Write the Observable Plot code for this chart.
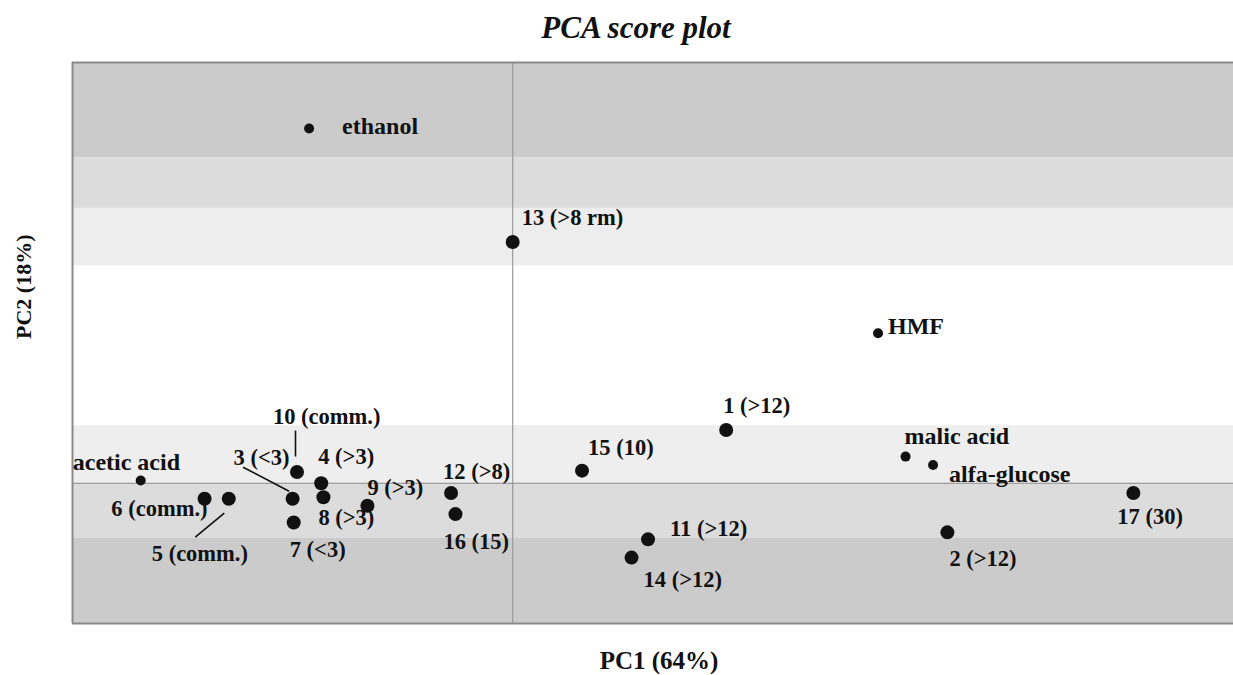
<!DOCTYPE html>
<html>
<head>
<meta charset="utf-8">
<script src="https://cdn.jsdelivr.net/npm/d3@7"></script>
<script src="https://cdn.jsdelivr.net/npm/@observablehq/plot@0.6"></script>
<style>
  html, body { margin: 0; padding: 0; background: #fff; }
  #chart svg { display: block; }
</style>
</head>
<body>
<div id="chart"></div>
<script>
// ---- data ----
const labels = ["ethanol","13 (>8 rm)","HMF","1 (>12)","15 (10)","malic acid","alfa-glucose","17 (30)",
  "11 (>12)","14 (>12)","2 (>12)","acetic acid","6 (comm.)","5 (comm.)","10 (comm.)","3 (<3)",
  "4 (>3)","8 (>3)","7 (<3)","9 (>3)","12 (>8)","16 (15)"];
const pc1 = [-1.85, 0.0, 3.32, 1.94, 0.63, 3.57, 3.82, 5.64, 1.23, 1.08, 3.95, -3.38, -2.80, -2.58,
  -1.96, -2.00, -1.74, -1.72, -1.99, -1.32, -0.56, -0.52];
const pc2 = [2.53, 1.72, 1.07, 0.38, 0.09, 0.19, 0.13, -0.07, -0.40, -0.53, -0.35, 0.02, -0.11, -0.11,
  0.08, -0.11, 0.00, -0.10, -0.28, -0.16, -0.07, -0.22];
const kind = ["variable","sample","variable","sample","sample","variable","variable","sample",
  "sample","sample","sample","variable","sample","sample","sample","sample",
  "sample","sample","sample","sample","sample","sample"];

const xDomain = [-4, 6.55];
const yDomain = [-1, 3];

// background bands (PC2 limits)
const bandLow  = [2.32, 1.96, 1.55, 0, -0.39, -1];
const bandHigh = [3, 2.32, 1.96, 0.41, 0, -0.39];

const title = "PCA score plot";
const xLabel = "PC1 (64%)";
const yLabel = "PC2 (18%)";

// ---- styling / layout (pixels) ----
const bandShade = ["#cbcbcb", "#dcdcdc", "#ededed", "#eeeeee", "#dcdcdc", "#cbcbcb"];
const labelOffset = {
  "ethanol": [33, -2, "start"],
  "13 (>8 rm)": [9, -24, "start"],
  "HMF": [10, -7, "start"],
  "1 (>12)": [-3, -24, "start"],
  "15 (10)": [6, -23, "start"],
  "malic acid": [-1, -20, "start"],
  "alfa-glucose": [16, 9, "start"],
  "17 (30)": [-16, 24, "start"],
  "11 (>12)": [22, -11, "start"],
  "14 (>12)": [12, 22, "start"],
  "2 (>12)": [2, 26, "start"],
  "acetic acid": [-68, -18, "start"],
  "6 (comm.)": [3, 10, "end"],
  "5 (comm.)": [-77, 55, "start"],
  "10 (comm.)": [-24, -55, "start"],
  "3 (<3)": [-59, -41, "start"],
  "4 (>3)": [-3, -26, "start"],
  "8 (>3)": [-5, 21, "start"],
  "7 (<3)": [-4, 27, "start"],
  "9 (>3)": [0, -18, "start"],
  "12 (>8)": [-8, -21, "start"],
  "16 (15)": [-12, 28, "start"]
};
const leaderOffset = {
  "5 (comm.)": [-4, 15, -33, 39],
  "10 (comm.)": [-1, -15, -1, -41],
  "3 (<3)": [-3, -7, -49, -31]
};

const points = labels.map((label, i) => ({label, x: pc1[i], y: pc2[i], kind: kind[i]}));
const bands = bandLow.map((lo, i) => ({lo, hi: bandHigh[i], shade: bandShade[i]}));

const font = "'Liberation Serif', 'Times New Roman', serif";

function leaders(index, scales) {
  const g = d3.create("svg:g").attr("stroke", "#111").attr("stroke-width", 1.6);
  points.forEach(p => {
    const o = leaderOffset[p.label];
    if (!o) return;
    const px = scales.x(p.x), py = scales.y(p.y);
    g.append("line")
      .attr("x1", px + o[0]).attr("y1", py + o[1])
      .attr("x2", px + o[2]).attr("y2", py + o[3]);
  });
  return g.node();
}

const labelMarks = points.map(p => {
  const o = labelOffset[p.label];
  return Plot.text([p], {
    x: "x", y: "y", text: "label",
    dx: o[0], dy: o[1], textAnchor: o[2],
    fontSize: p.kind === "variable" ? 24 : 22.5,
    fontWeight: "bold", fill: "#111", fontFamily: font
  });
});

const chart = Plot.plot({
  width: 1233,
  height: 675,
  marginLeft: 72,
  marginRight: 0,
  marginTop: 62,
  marginBottom: 52,
  style: {fontFamily: font, background: "#fff"},
  x: {domain: xDomain, axis: null},
  y: {domain: yDomain, axis: null},
  marks: [
    Plot.rect(bands, {x1: () => xDomain[0], x2: () => xDomain[1], y1: "lo", y2: "hi", fill: "shade"}),
    Plot.ruleX([0], {stroke: "#9a9a9a", strokeWidth: 1.2}),
    Plot.ruleY([0], {stroke: "#8c8c8c", strokeWidth: 1.2}),
    Plot.ruleY([yDomain[1]], {stroke: "#8a8a8a", strokeWidth: 2}),
    Plot.ruleY([yDomain[0]], {stroke: "#8a8a8a", strokeWidth: 2}),
    Plot.ruleX([xDomain[0]], {stroke: "#8a8a8a", strokeWidth: 2}),
    leaders,
    Plot.dot(points.filter(d => d.kind === "sample"), {x: "x", y: "y", r: 7, fill: "#111", stroke: "none"}),
    Plot.dot(points.filter(d => d.kind === "variable"), {x: "x", y: "y", r: 5, fill: "#111", stroke: "none"}),
    ...labelMarks,
    Plot.text([title], {text: d => d, frameAnchor: "top", lineAnchor: "middle", dx: -17, dy: -34, fontSize: 31,
      fontWeight: "bold", fontStyle: "italic", fill: "#111", fontFamily: font}),
    Plot.text([xLabel], {text: d => d, frameAnchor: "bottom", lineAnchor: "middle", dx: 6, dy: 37, fontSize: 25,
      fontWeight: "bold", fill: "#111", fontFamily: font}),
    Plot.text([yLabel], {text: d => d, frameAnchor: "left", lineAnchor: "middle", dx: -49, dy: -4, rotate: -90, fontSize: 22,
      fontWeight: "bold", fill: "#111", fontFamily: font})
  ]
});

document.getElementById("chart").appendChild(chart);
</script>
</body>
</html>
